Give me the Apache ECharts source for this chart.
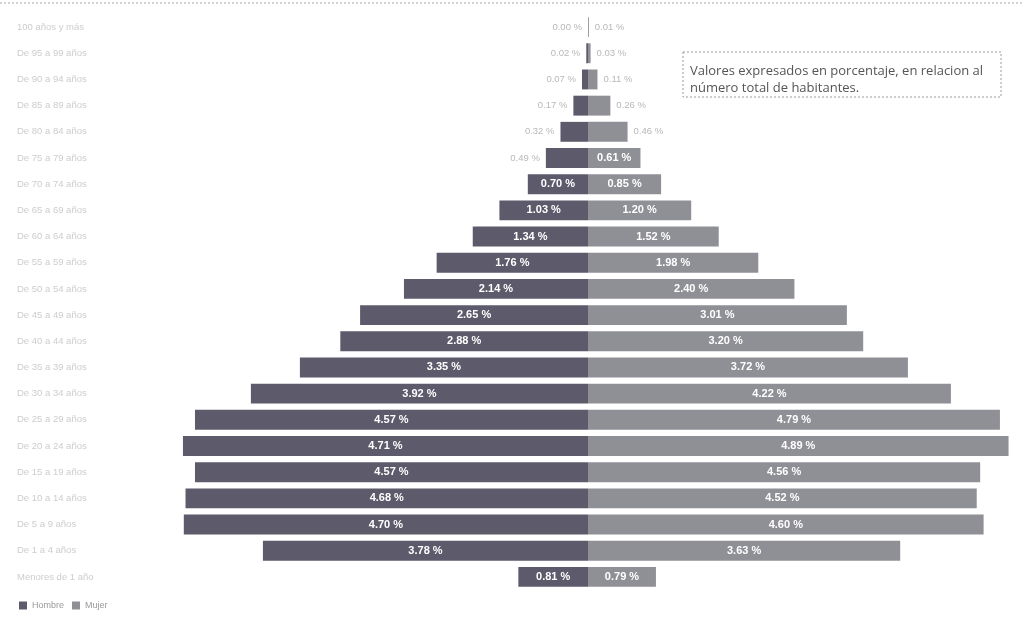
<!DOCTYPE html>
<html>
<head>
<meta charset="utf-8">
<script src="https://cdn.jsdelivr.net/npm/echarts@6/dist/echarts.min.js"></script>
<style>
html,body{margin:0;padding:0;background:#fff;}
#chart{width:1024px;height:619px;}
</style>
</head>
<body>
<div id="chart"></div>
<script>
// Age groups, top (oldest) to bottom (youngest)
const ageGroups = [
  "100 años y más","De 95 a 99 años","De 90 a 94 años","De 85 a 89 años",
  "De 80 a 84 años","De 75 a 79 años","De 70 a 74 años","De 65 a 69 años",
  "De 60 a 64 años","De 55 a 59 años","De 50 a 54 años","De 45 a 49 años",
  "De 40 a 44 años","De 35 a 39 años","De 30 a 34 años","De 25 a 29 años",
  "De 20 a 24 años","De 15 a 19 años","De 10 a 14 años","De 5 a 9 años",
  "De 1 a 4 años","Menores de 1 año"
];
// Percent of total population
const hombres = [0.00,0.02,0.07,0.17,0.32,0.49,0.70,1.03,1.34,1.76,2.14,2.65,2.88,3.35,3.92,4.57,4.71,4.57,4.68,4.70,3.78,0.81];
const mujeres = [0.01,0.03,0.11,0.26,0.46,0.61,0.85,1.20,1.52,1.98,2.40,3.01,3.20,3.72,4.22,4.79,4.89,4.56,4.52,4.60,3.63,0.79];
const seriesNames = ["Hombre","Mujer"];
const noteLines = ["Valores expresados en porcentaje, en relacion al","número total de habitantes."];

const colH = "#5c5a6b", colM = "#8f8f96";
const insideLbl = {show:true, position:"inside", color:"#fff", fontWeight:"bold", fontSize:11, fontFamily:"Arial"};
function fmt(v){ return Math.abs(v).toFixed(2) + " %"; }
function build(arr, sign, outPos){
  return arr.map(v => {
    const small = v < 0.5;
    return {
      value: sign * v,
      label: small
        ? {show:true, position:outPos, distance:6, color:"#b8b8b8", fontSize:9.5, fontFamily:"Arial", formatter:p=>fmt(p.value)}
        : Object.assign({}, insideLbl, {formatter:p=>fmt(p.value)})
    };
  });
}

const chart = echarts.init(document.getElementById("chart"));
chart.setOption({
  backgroundColor:"#fff",
  animation:false,
  grid:{left:158, right:6, top:14, bottom:29},
  xAxis:{type:"value", min:-5, max:5, show:false},
  yAxis:{
    type:"category", data:ageGroups, inverse:true, position:"left",
    axisLine:{show:false, onZero:false}, axisTick:{show:false},
    axisLabel:{align:"left", margin:141, color:"#cdcdcd", fontSize:9.5, fontFamily:"Arial"}
  },
  legend:{
    data:seriesNames, left:14, bottom:4, itemWidth:8, itemHeight:8, itemGap:8, icon:"rect",
    textStyle:{color:"#9a9a9a", fontSize:9, fontFamily:"Arial"}
  },
  series:[
    {name:seriesNames[0], type:"bar", barWidth:"76%", barGap:"-100%", itemStyle:{color:colH},
     data:build(hombres,-1,"left")},
    {name:seriesNames[1], type:"bar", barWidth:"76%", itemStyle:{color:colM},
     data:build(mujeres,1,"right")}
  ],
  graphic:[
    {type:"line", shape:{x1:0,y1:3,x2:1024,y2:3}, style:{stroke:"#aaa", lineWidth:1, lineDash:[2,2]}},
    {type:"rect", shape:{x:683,y:52,width:318,height:45}, style:{fill:"#fff", stroke:"#9a9a9a", lineWidth:1, lineDash:[2,2]}},
    {type:"text", x:690, y:63, style:{text:noteLines.join("\n"), fill:"#555", fontSize:13, lineHeight:17, fontFamily:"Open Sans"}}
  ]
});
</script>
</body>
</html>
